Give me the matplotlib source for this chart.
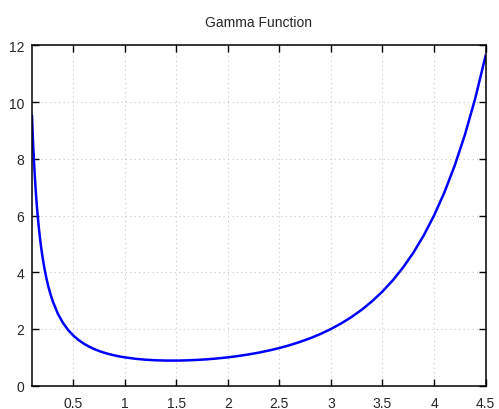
import matplotlib
matplotlib.use('Agg')
from matplotlib import pyplot as plt


# Gamma function sampled along the curve (denser where it is steep)
x_vals = [0.10, 0.11, 0.12, 0.13, 0.14, 0.15, 0.16, 0.17, 0.18, 0.19,
          0.20, 0.22, 0.24, 0.26, 0.28, 0.30, 0.35, 0.40,
          0.45, 0.50, 0.55, 0.60, 0.65, 0.70, 0.75, 0.80, 0.85, 0.90,
          0.95, 1.00, 1.10, 1.20, 1.30, 1.40, 1.50, 1.60, 1.70, 1.80,
          1.90, 2.00, 2.10, 2.20, 2.30, 2.40, 2.50, 2.60, 2.70, 2.80,
          2.90, 3.00, 3.10, 3.20, 3.30, 3.40, 3.50, 3.60, 3.70, 3.80,
          3.90, 4.00, 4.10, 4.20, 4.30, 4.40, 4.50]
gamma_vals = [9.514, 8.613, 7.863, 7.230, 6.689, 6.220, 5.811, 5.451, 5.132, 4.847,
              4.591, 4.150, 3.786, 3.480, 3.219, 2.992, 2.546, 2.218,
              1.968, 1.772, 1.616, 1.489, 1.385, 1.298, 1.225, 1.164, 1.113, 1.069,
              1.032, 1.000, 0.951, 0.918, 0.897, 0.887, 0.886, 0.894, 0.909, 0.931,
              0.962, 1.000, 1.047, 1.102, 1.167, 1.242, 1.329, 1.430, 1.545, 1.676,
              1.827, 2.000, 2.198, 2.424, 2.683, 2.981, 3.323, 3.717, 4.171, 4.694,
              5.300, 6.000, 6.813, 7.757, 8.855, 10.136, 11.632]

x_ticks = [0.5, 1, 1.5, 2, 2.5, 3, 3.5, 4, 4.5]
x_tick_labels = ['0.5', '1', '1.5', '2', '2.5', '3', '3.5', '4', '4.5']
y_ticks = [0, 2, 4, 6, 8, 10, 12]

plt.rcParams['font.family'] = ['Liberation Sans', 'DejaVu Sans']

fig = plt.figure(figsize=(4.99, 4.10), dpi=100)
ax = fig.add_axes([0.0641, 0.0568, 0.909, 0.830])

ax.plot(x_vals, gamma_vals, color='#0000ff', linewidth=1.8,
        solid_joinstyle='round')

ax.set_xlim(0.1, 4.5)
ax.set_ylim(0, 12)
ax.set_xticks(x_ticks)
ax.set_xticklabels(x_tick_labels)
ax.set_yticks(y_ticks)

ax.grid(True, color='#c8c8c8', linestyle=(0, (1, 3)), linewidth=0.8)
ax.tick_params(direction='in', length=5, width=1, top=True, right=True,
               labelsize=10, labelcolor='#262626')
ax.tick_params(axis='x', pad=7.5)
ax.tick_params(axis='y', pad=5.5)
for spine in ax.spines.values():
    spine.set_linewidth(1.1)

ax.set_title('Gamma Function', fontsize=10, color='#262626', pad=14)

fig.savefig('out.png', dpi=100)
